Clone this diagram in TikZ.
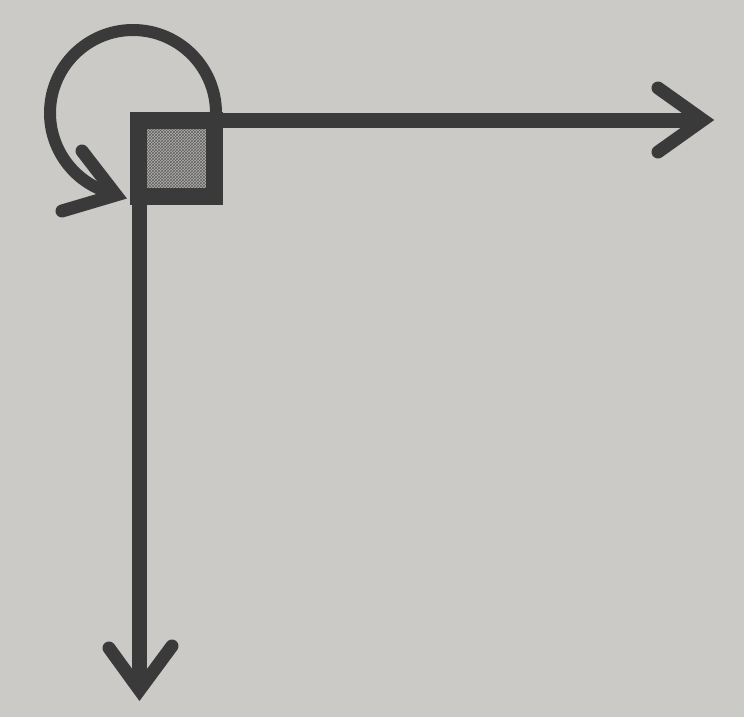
\documentclass[tikz,border=0pt]{standalone}
\usetikzlibrary{patterns}
\definecolor{paper}{RGB}{204,202,199}
\definecolor{ink}{RGB}{58,58,58}
\definecolor{shade}{RGB}{178,176,173}
\begin{document}
\begin{tikzpicture}[x=1pt,y=-1pt,
  inkline/.style={draw=ink,line width=15pt},
  looparc/.style={draw=ink,line width=12pt},
  barb/.style={draw=ink,line width=13pt,line join=miter,line cap=round},
  block/.style={draw=ink,line width=17pt,minimum width=76pt,minimum height=76pt,inner sep=0pt,
    preaction={fill=shade},pattern=crosshatch,pattern color=ink!80}]
\fill[paper] (0,0) rectangle (744,717);
\useasboundingbox (0,0) rectangle (744,717);
\coordinate (hEnd) at (703,120);
\coordinate (vEnd) at (139.5,690);
\coordinate (arcS) at (216,113);
\coordinate (arcE) at (116,195);
% lines
\draw[inkline] (176.5,120) -- (hEnd);
\draw[inkline] (139.5,158.5) -- (vEnd);
% square
\node[block] (sq) at (176.5,158.5) {};
% arrowheads
\draw[barb] (658,88) -- (hEnd) -- (658,152);
\draw[barb] (109,648) -- (vEnd) -- (172,646);
% rotation arc
\draw[looparc] (arcS) arc[start angle=0,end angle=-257,radius=83];
\draw[barb] (82,151) -- (arcE) -- (62,211);
\end{tikzpicture}
\end{document}
